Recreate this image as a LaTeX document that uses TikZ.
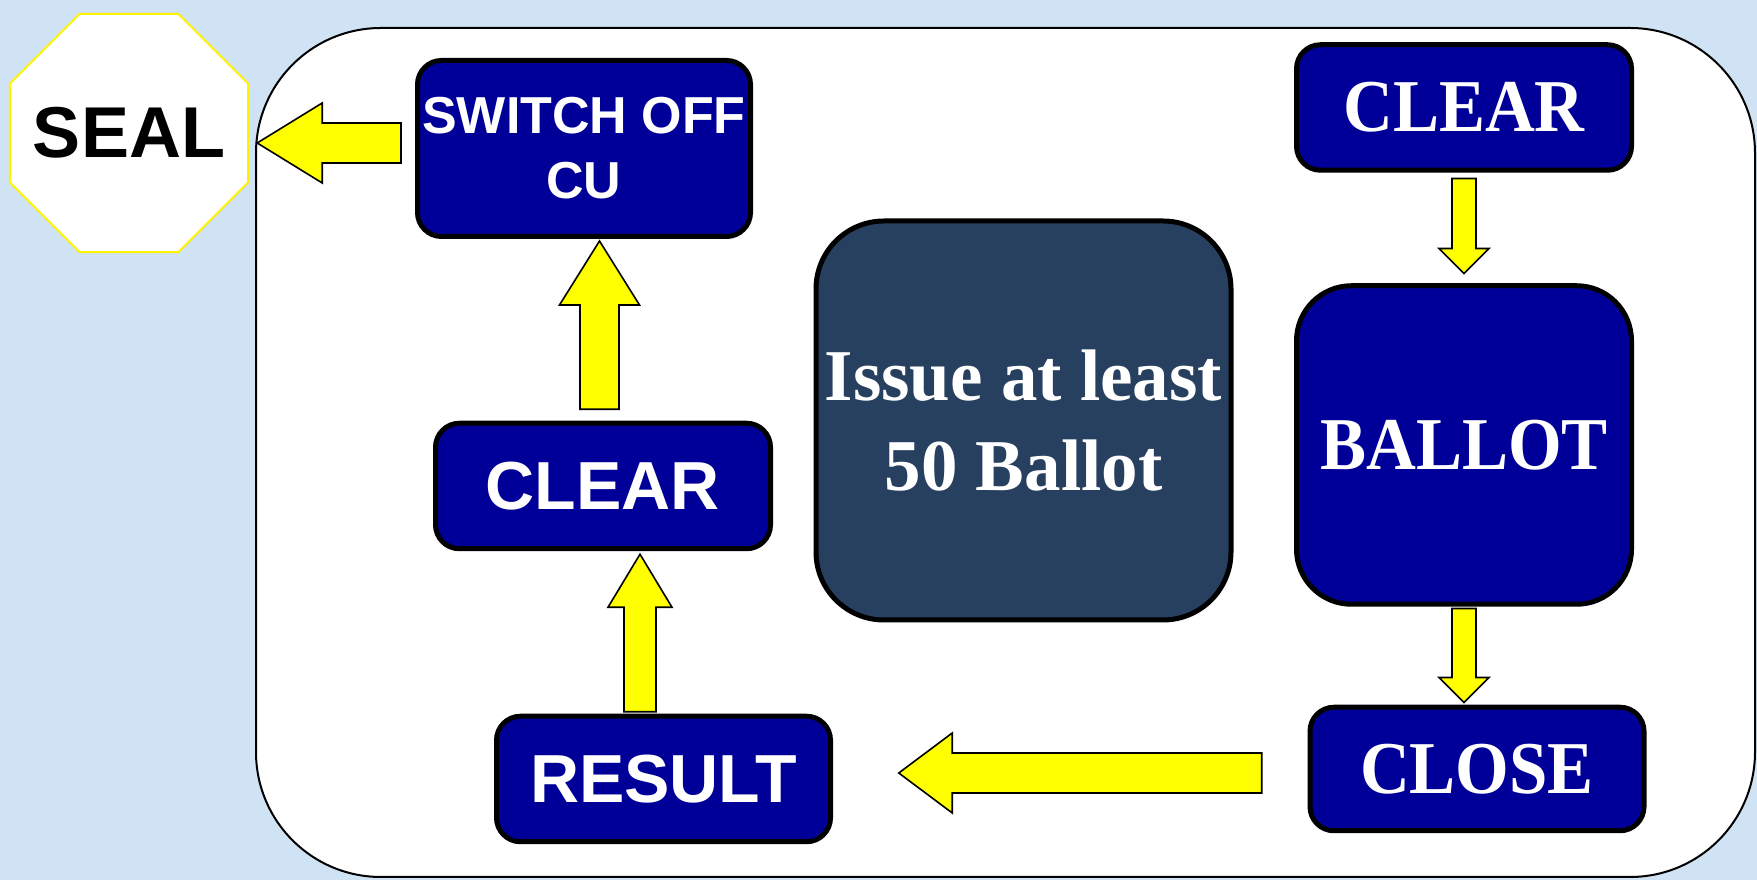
\documentclass[tikz,border=0pt]{standalone}
\usepackage{fontspec}
\setmainfont{Liberation Serif}
\setsansfont{Liberation Sans}
\usepackage{graphicx}
\usetikzlibrary{shapes.geometric,calc}
\definecolor{bgblue}{HTML}{D0E3F4}
\definecolor{boxblue}{HTML}{000099}
\definecolor{slate}{HTML}{284060}
\definecolor{arrowyellow}{HTML}{FFFF00}
\tikzset{
  stepbox/.style={draw=black, line width=5pt, fill=boxblue, text=white, rounded corners=24pt, inner sep=0pt, align=center},
  sansbig/.style={font=\sffamily\bfseries\fontsize{68}{80}\selectfont},
  sansmid/.style={font=\sffamily\bfseries\fontsize{52}{65}\selectfont},
  serifbig/.style={font=\rmfamily\bfseries\fontsize{69}{80}\selectfont},
  serifissue/.style={font=\rmfamily\bfseries\fontsize{73}{90}\selectfont},
  barrow/.style={draw=black, line width=1.6pt, fill=arrowyellow, line join=miter},
}
\newcommand\tallserif[1]{\scalebox{1}[1.08]{#1}}
\newcommand\blockarrow[5]{%
  \path ($(#2)!#3!(#1)$) coordinate (ab);
  \draw[barrow] ($(#1)!#5!90:(#2)$) -- ($(ab)!#5!90:(#2)$) -- ($(ab)!#4!90:(#2)$) -- (#2)
    -- ($(ab)!#4!-90:(#2)$) -- ($(ab)!#5!-90:(#2)$) -- ($(#1)!#5!-90:(#2)$) -- cycle;
}
\begin{document}
\begin{tikzpicture}[x=1pt,y=1pt]
\fill[bgblue] (0,0) rectangle (1757,880);
\useasboundingbox (0,0) rectangle (1757,880);
\draw[line width=2pt, fill=white, rounded corners=125pt] (256,3) rectangle (1755,852);

\node[regular polygon, regular polygon sides=8, minimum size=258pt, draw=yellow, line width=2pt,
      fill=white, inner sep=0pt,
      label={[inner sep=0pt, font=\sffamily\bfseries\fontsize{72}{86}\selectfont, text=black]center:SEAL}] (seal) at (129,747) {};

\node[stepbox, sansmid, minimum width=333pt, minimum height=176pt] (sw) at (584,731.5) {SWITCH OFF\\CU};
\node[stepbox, sansbig, minimum width=335pt, minimum height=125.5pt] (clearL) at (603,394) {CLEAR};
\node[stepbox, sansbig, minimum width=334pt, minimum height=125.5pt] (result) at (663.5,101) {RESULT};
\node[stepbox, serifissue, fill=slate, rounded corners=68pt, minimum width=415pt, minimum height=399pt] (issue) at (1023.5,459.5) {Issue at least\\50 Ballot};
\node[stepbox, serifbig, minimum width=335pt, minimum height=125.5pt] (clearR) at (1464,772.5) {\tallserif{CLEAR}};
\node[stepbox, serifbig, rounded corners=55pt, minimum width=335pt, minimum height=318.5pt] (ballot) at (1464,435) {\tallserif{BALLOT}};
\node[stepbox, serifbig, minimum width=334pt, minimum height=123.5pt] (close) at (1477,111) {\tallserif{CLOSE}};

\coordinate (a1t) at ($(sw.west)+(-14,5.5)$);
\coordinate (a1h) at ($(seal.east)+(8,-10)$);
\blockarrow{a1t}{a1h}{65pt}{40pt}{20pt}

\coordinate (a2t) at ($(clearL.north)+(-3.5,11.5)$);
\coordinate (a2h) at ($(sw.south)+(15.5,-2)$);
\blockarrow{a2t}{a2h}{64pt}{40pt}{19.5pt}

\coordinate (a3t) at ($(result.north)+(-23.5,2)$);
\coordinate (a3h) at ($(clearL.south)+(37,-3)$);
\blockarrow{a3t}{a3h}{53pt}{32pt}{16pt}

\coordinate (a4t) at ($(close.west)+(-45.75,-4)$);
\coordinate (a4h) at ($(result.east)+(65.75,6)$);
\blockarrow{a4t}{a4h}{53.5pt}{40pt}{20pt}

\coordinate (a5t) at ($(clearR.south)+(0,-5.75)$);
\coordinate (a5h) at ($(ballot.north)+(0,9.75)$);
\blockarrow{a5t}{a5h}{25pt}{25pt}{12pt}

\coordinate (a6t) at ($(ballot.south)+(0,-1.75)$);
\coordinate (a6h) at ($(close.north)+(-13,2.25)$);
\blockarrow{a6t}{a6h}{25pt}{25pt}{12pt}
\end{tikzpicture}
\end{document}
